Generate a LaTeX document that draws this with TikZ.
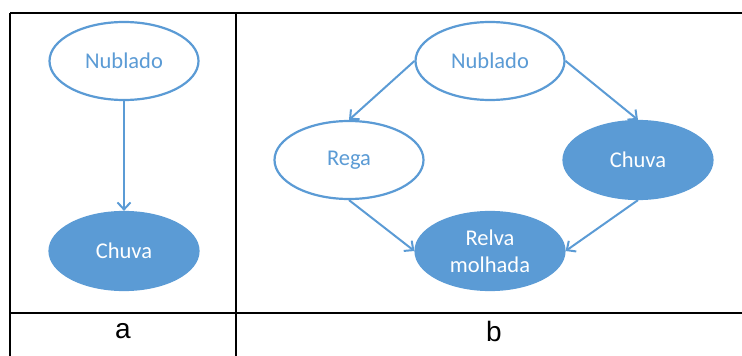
\documentclass[tikz,border=0pt]{standalone}
\usepackage{fontspec}
\setmainfont{Carlito}
\newfontfamily\arialfont{Liberation Sans}
\usetikzlibrary{shapes.geometric,arrows.meta}
\definecolor{nodeblue}{HTML}{5B9BD5}
\tikzset{
  openell/.style={ellipse,draw=nodeblue,line width=2.2pt,fill=white,minimum width=149pt,minimum height=78pt,inner sep=0pt,text=nodeblue,font=\fontsize{22.5}{27}\selectfont,align=center},
  fillell/.style={ellipse,draw=nodeblue,line width=2.2pt,fill=nodeblue,minimum width=149pt,minimum height=78pt,inner sep=0pt,text=white,font=\fontsize{22.5}{27}\selectfont,align=center},
  conn/.style={draw=nodeblue,line width=2pt,-{Straight Barb[length=7pt,width=13pt,line width=2pt]}},
  rule/.style={draw=black,line width=2.6pt},
  collabel/.style={font=\arialfont\fontsize{28}{30}\selectfont,inner sep=0pt}
}
\begin{document}
\begin{tikzpicture}[x=1pt,y=-1pt]
\useasboundingbox (0,0) rectangle (742,356);
% table lines
\coordinate (tl) at (10,13);
\coordinate (tr) at (742,13);
\coordinate (bl) at (10,356);
\coordinate (mt) at (236,13);
\coordinate (mb) at (236,356);
\coordinate (hl) at (10,313);
\coordinate (hr) at (742,313);
\draw[rule] (tl) -- (tr);
\draw[rule] (tl) -- (bl);
\draw[rule] (mt) -- (mb);
\draw[rule] (hl) -- (hr);
% labels
\node[collabel] (la) at (123,331) {a};
\node[collabel] (lb) at (494,331) {b};
% panel a
\node[openell] (nubA) at (124,61) {Nublado};
\node[fillell] (chuA) at (124,251) {Chuva};
\draw[conn] (nubA.south) -- (chuA.north);
% panel b
\node[openell] (nubB) at (490,61) {Nublado};
\node[openell] (rega) at (349,160) {Rega};
\node[fillell] (chuB) at (638,160) {Chuva};
\node[fillell] (relva) at (490,251) {Relva\\molhada};
\draw[conn] (nubB.west) -- (rega.north);
\draw[conn] (nubB.east) -- (chuB.north);
\draw[conn] (rega.south) -- (relva.west);
\draw[conn] (chuB.south) -- (relva.east);
\end{tikzpicture}
\end{document}
